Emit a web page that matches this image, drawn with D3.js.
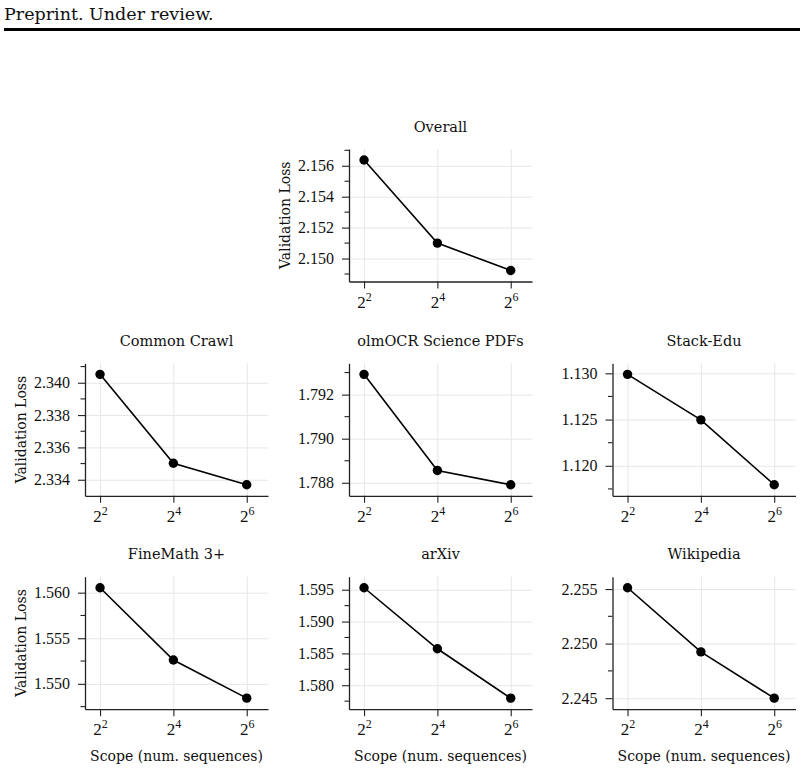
<!DOCTYPE html>
<html>
<head>
<meta charset="utf-8">
<script src="https://d3js.org/d3.v7.min.js"></script>
<style>
  body { margin: 0; background: #fff; }
  .tick-num { font-family: 'Liberation Serif', serif; font-size: 16px; fill: #111; }
  .label { font-family: 'DejaVu Serif', serif; font-size: 14px; fill: #111; }
</style>
</head>
<body>
<svg id="chart"></svg>
<script>
// Chart size
const chartWidth = 804
const chartHeight = 773

// Scope values on the x axis (num. sequences) and their powers of two
const scopes = [4, 16, 64]
const scopeExponents = [2, 4, 6]

// Panel titles
const panelNames = ['Overall', 'Common Crawl', 'olmOCR Science PDFs', 'Stack-Edu',
  'FineMath 3+', 'arXiv', 'Wikipedia']

// Validation loss
const overallLoss = [2.15637, 2.15100, 2.14923]
const commonCrawlLoss = [2.34052, 2.33502, 2.33369]
const olmocrLoss = [1.79292, 1.78856, 1.78791]
const stackEduLoss = [1.12989, 1.12497, 1.11795]
const fineMathLoss = [1.56054, 1.55261, 1.54843]
const arxivLoss = [1.59531, 1.58573, 1.57797]
const wikipediaLoss = [2.25512, 2.24924, 2.24500]

// Major y ticks for each panel
const overallTicks = [2.150, 2.152, 2.154, 2.156]
const commonCrawlTicks = [2.334, 2.336, 2.338, 2.340]
const olmocrTicks = [1.788, 1.790, 1.792]
const stackEduTicks = [1.120, 1.125, 1.130]
const fineMathTicks = [1.550, 1.555, 1.560]
const arxivTicks = [1.580, 1.585, 1.590, 1.595]
const wikipediaTicks = [2.245, 2.250, 2.255]

const lossSeries = [overallLoss, commonCrawlLoss, olmocrLoss, stackEduLoss,
  fineMathLoss, arxivLoss, wikipediaLoss]
const tickSeries = [overallTicks, commonCrawlTicks, olmocrTicks, stackEduTicks,
  fineMathTicks, arxivTicks, wikipediaTicks]

// Grid layout: column / row of each panel
const panelCols = [1, 0, 1, 2, 0, 1, 2]
const panelRows = [0, 1, 1, 1, 2, 2, 2]
const colLeft = [85, 349, 612.5]
const rowTop = [149, 363.3, 576.7]
const plotW = 183
const plotH = 132.5

const svg = d3.select('#chart')
  .attr('width', chartWidth)
  .attr('height', chartHeight)

// Page header
svg.append('text')
  .attr('class', 'label')
  .attr('x', 4)
  .attr('y', 19.5)
  .style('font-size', '17.5px')
  .text('Preprint. Under review.')

svg.append('rect')
  .attr('x', 4)
  .attr('y', 28)
  .attr('width', 796)
  .attr('height', 3)
  .attr('fill', '#000')

const x = d3.scaleLog().base(2)
  .domain([Math.pow(2, 1.59), Math.pow(2, 6.58)])
  .range([0, plotW])

panelNames.forEach((name, i) => {
  const values = lossSeries[i]
  const ticks = tickSeries[i]
  const col = panelCols[i]
  const row = panelRows[i]
  const lo = d3.min(values)
  const hi = d3.max(values)
  const pad = (hi - lo) * 0.1
  const y = d3.scaleLinear().domain([lo - pad, hi + pad]).range([plotH, 0])
  const step = ticks[1] - ticks[0]
  const minorTicks = d3.range(Math.ceil((lo - pad) / (step / 2)), Math.floor((hi + pad) / (step / 2)) + 1)
    .map(k => k * step / 2)
    .filter(v => !ticks.some(t => Math.abs(t - v) < step / 10))

  const g = svg.append('g')
    .attr('transform', `translate(${colLeft[col]}, ${rowTop[row]})`)

  // Grid
  g.append('g')
    .call(d3.axisLeft(y).tickValues(ticks).tickSize(-plotW).tickFormat(''))
    .call(s => s.select('.domain').remove())
    .call(s => s.selectAll('line').attr('stroke', '#e6e6e6').attr('stroke-width', 1))
  g.append('g')
    .attr('transform', `translate(0, ${plotH})`)
    .call(d3.axisBottom(x).tickValues(scopes).tickSize(-plotH).tickFormat(''))
    .call(s => s.select('.domain').remove())
    .call(s => s.selectAll('line').attr('stroke', '#e6e6e6').attr('stroke-width', 1))

  // Y axis
  const yAxisG = g.append('g')
    .call(d3.axisLeft(y).tickValues(ticks).tickSize(7).tickSizeOuter(0).tickPadding(8)
      .tickFormat(d3.format('.3f')))
  yAxisG.select('.domain').attr('stroke', '#222').attr('stroke-width', 1.3)
  yAxisG.selectAll('.tick line').attr('stroke', '#222').attr('stroke-width', 1.1)
  yAxisG.selectAll('.tick text').attr('class', 'tick-num')
  yAxisG.attr('font-family', null).attr('font-size', null)
  yAxisG.selectAll('.minor')
    .data(minorTicks)
    .enter()
    .append('line')
    .attr('class', 'minor')
    .attr('x1', -4.5).attr('x2', 0)
    .attr('y1', d => y(d)).attr('y2', d => y(d))
    .attr('stroke', '#222').attr('stroke-width', 1.1)

  // X axis
  const xAxisG = g.append('g')
    .attr('transform', `translate(0, ${plotH})`)
    .call(d3.axisBottom(x).tickValues(scopes).tickSize(7).tickSizeOuter(0).tickPadding(6)
      .tickFormat(''))
  xAxisG.attr('font-family', null).attr('font-size', null)
  xAxisG.select('.domain').attr('stroke', '#222').attr('stroke-width', 1.3)
  xAxisG.selectAll('.tick line').attr('stroke', '#222').attr('stroke-width', 1.1)
  xAxisG.selectAll('.tick text').each(function (d, j) {
    const t = d3.select(this)
      .attr('class', 'tick-num')
      .attr('dy', null)
      .attr('y', 26)
      .style('font-size', '17px')
    t.append('tspan').text('2')
    t.append('tspan')
      .attr('dy', -7)
      .style('font-size', '12px')
      .text(scopeExponents[j])
  })

  // Line and points
  const line = d3.line().x((d, j) => x(scopes[j])).y(d => y(d))
  g.append('path')
    .datum(values)
    .attr('d', line)
    .attr('fill', 'none')
    .attr('stroke', '#000')
    .attr('stroke-width', 1.6)
  g.selectAll('.dot')
    .data(values)
    .enter()
    .append('circle')
    .attr('class', 'dot')
    .attr('cx', (d, j) => x(scopes[j]))
    .attr('cy', d => y(d))
    .attr('r', 4.7)
    .attr('fill', '#000')

  // Title
  g.append('text')
    .attr('class', 'label')
    .attr('text-anchor', 'middle')
    .attr('x', plotW / 2)
    .attr('y', -17.5)
    .style('font-size', '14.5px')
    .text(name)

  // Axis labels
  if (col === 0 || row === 0) {
    g.append('text')
      .attr('class', 'label')
      .attr('text-anchor', 'middle')
      .attr('transform', `translate(-59, ${plotH / 2}) rotate(-90)`)
      .text('Validation Loss')
  }
  if (row === 2) {
    g.append('text')
      .attr('class', 'label')
      .attr('text-anchor', 'middle')
      .attr('x', plotW / 2)
      .attr('y', plotH + 51.5)
      .text('Scope (num. sequences)')
  }
})
</script>
</body>
</html>
